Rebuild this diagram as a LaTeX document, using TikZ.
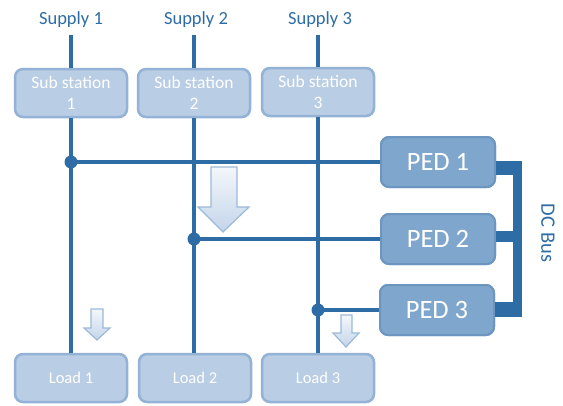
\documentclass[tikz,border=0pt]{standalone}
\usepackage{fontspec}
\setmainfont{Carlito}
\usetikzlibrary{calc}
\definecolor{lineblue}{HTML}{2E6CA5}
\definecolor{subfill}{HTML}{B9CDE4}
\definecolor{subdraw}{HTML}{93B2D5}
\definecolor{pedfill}{HTML}{7FA6CC}
\definecolor{peddraw}{HTML}{6C95C0}
\definecolor{arrtop}{HTML}{F4F7FB}
\definecolor{arrbot}{HTML}{C3D5EA}
\definecolor{arrdraw}{HTML}{9CB9DA}
\tikzset{
  subbox/.style={draw=subdraw, fill=subfill, line width=2.5pt, rounded corners=8pt,
    minimum width=112pt, minimum height=48pt, text=white, font=\fontsize{17.5}{21}\selectfont,
    align=center, inner sep=0pt},
  loadbox/.style={subbox, font=\fontsize{16.5}{20}\selectfont},
  pedbox/.style={draw=peddraw, fill=pedfill, line width=2pt, rounded corners=8pt,
    minimum width=114pt, minimum height=50pt, text=white, font=\fontsize{26.5}{28}\selectfont,
    inner sep=0pt},
  supplab/.style={text=lineblue, font=\fontsize{18.5}{20}\selectfont, inner sep=0pt},
  wire/.style={draw=lineblue, line width=3.2pt},
  dotc/.style={fill=lineblue},
  flow/.style={draw=arrdraw, line width=1.2pt, top color=arrtop, bottom color=arrbot, line join=miter},
  busc/.style={fill=lineblue}
}
\begin{document}
\begin{tikzpicture}[x=1pt,y=-1pt]
\useasboundingbox (0,0) rectangle (563,405);

% supplies
\node[supplab] (sup1) at (71,20) {Supply 1};
\node[supplab] (sup2) at (196,20) {Supply 2};
\node[supplab] (sup3) at (320,20) {Supply 3};

% sub stations
\node[subbox] (s1) at (71,93) {Sub station\\1};
\node[subbox] (s2) at (194,93) {Sub station\\2};
\node[subbox] (s3) at (318,92) {Sub station\\3};

% loads
\node[loadbox] (l1) at (71,378) {Load 1};
\node[loadbox] (l2) at (195,378) {Load 2};
\node[loadbox] (l3) at (318,378) {Load 3};

% PEDs
\node[pedbox] (p1) at (438,162) {PED 1};
\node[pedbox] (p2) at (438,239) {PED 2};
\node[pedbox] (p3) at (437,310) {PED 3};

% supply lines
\coordinate (t1) at ($(s1.north |- sup1.south)+(0,7)$);
\coordinate (t2) at ($(s2.north |- sup2.south)+(0,7)$);
\coordinate (t3) at ($(s3.north |- sup3.south)+(0,7)$);
\draw[wire] (t1) -- (s1.north);
\draw[wire] (t2) -- (s2.north);
\draw[wire] (t3) -- (s3.north);

% main vertical lines
\draw[wire] (s1.south) -- (l1.north);
\draw[wire] (s2.south) -- (s2.south |- l2.north);
\draw[wire] (s3.south) -- (s3.south |- l3.north);

% junctions
\coordinate (j1) at (s1.south |- p1.west);
\coordinate (j2) at (s2.south |- p2.west);
\coordinate (j3) at (s3.south |- p3.west);
\draw[wire] (j1) -- (p1.west);
\draw[wire] (j2) -- (p2.west);
\draw[wire] (j3) -- (p3.west);
\fill[dotc] (j1) circle (6.5);
\fill[dotc] (j2) circle (6.5);
\fill[dotc] (j3) circle (6.5);

% redraw boxes on top
\node[pedbox] at (p1) {PED 1};
\node[pedbox] at (p2) {PED 2};
\node[pedbox] at (p3) {PED 3};

% DC bus
\fill[busc] (p1.east |- 0,161) rectangle (522,175);
\fill[busc] (p2.east |- 0,231) rectangle (522,242);
\fill[busc] (p3.east |- 0,302) rectangle (522,317);
\fill[busc] (513,161) rectangle (522,317);
\node[text=lineblue, font=\fontsize{20.5}{22}\selectfont, rotate=-90, inner sep=0pt] (bus) at (548,233) {DC Bus};

% flow arrows
\path[flow] (211,167) -- (237,167) -- (237,207) -- (249,207) -- (223,232) -- (198,207) -- (211,207) -- cycle;
\path[flow] (91,309) -- (103,309) -- (103,328) -- (110,328) -- (97,340) -- (84,328) -- (91,328) -- cycle;
\path[flow] (341,315) -- (352,315) -- (352,333) -- (359,333) -- (346,347) -- (333,333) -- (341,333) -- cycle;
\end{tikzpicture}
\end{document}
